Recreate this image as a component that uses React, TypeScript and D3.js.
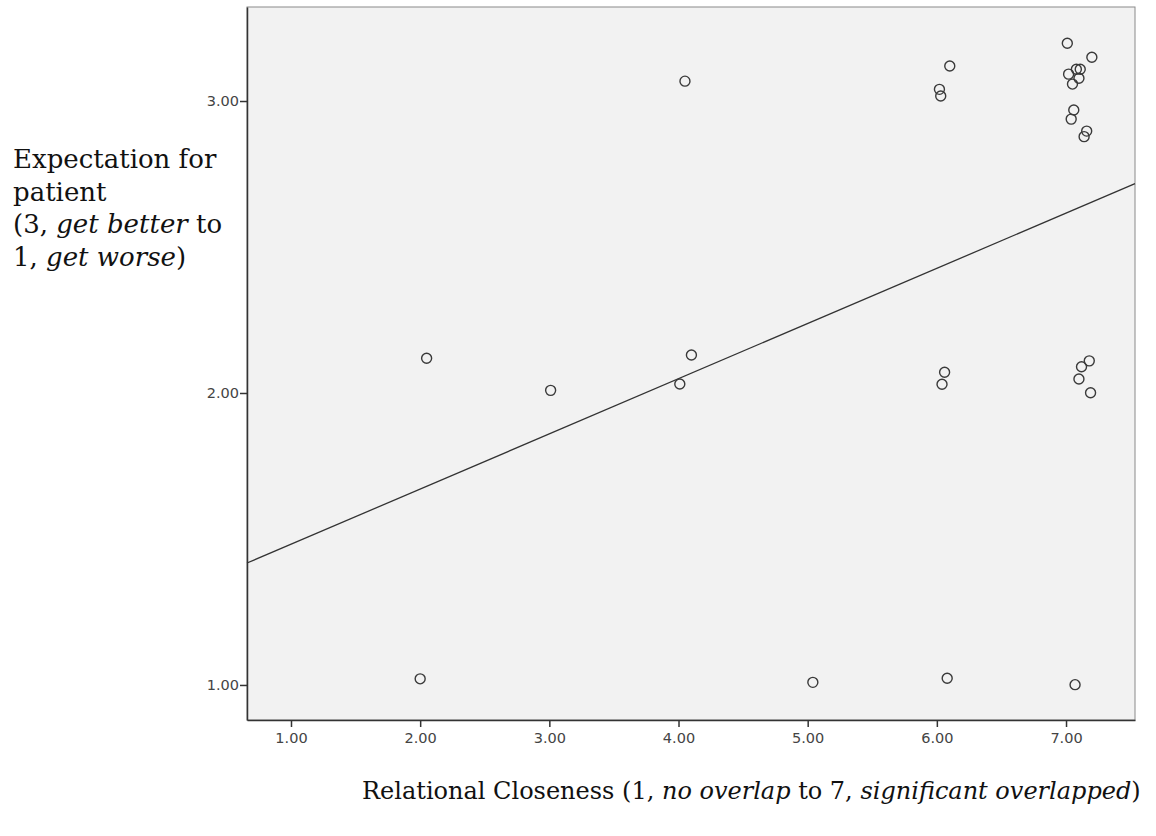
import React, { useEffect, useRef } from "react";
import * as d3 from "d3";

const closeness = [
  2.0, 5.04, 6.08, 7.07,
  2.05, 3.01, 4.01, 4.1, 6.04, 6.06, 7.1, 7.12, 7.18, 7.19,
  4.05, 6.02, 6.03, 6.1,
  7.01, 7.2, 7.02, 7.08, 7.11, 7.1, 7.05, 7.06, 7.04, 7.16, 7.14,
];
const expectation = [
  1.021, 1.009, 1.023, 1.001,
  2.119, 2.009, 2.031, 2.13, 2.03, 2.071, 2.048, 2.09, 2.11, 2.001,
  3.068, 3.04, 3.017, 3.12,
  3.198, 3.15, 3.092, 3.109, 3.109, 3.078, 3.058, 2.969, 2.938, 2.897, 2.878,
];
const xTicks = [1, 2, 3, 4, 5, 6, 7];
const yTicks = [1, 2, 3];
const fitIntercept = 1.293;
const fitSlope = 0.189;

export default function App() {
  const ref = useRef<SVGSVGElement>(null);
  useEffect(() => {
    const svg = d3.select(ref.current);
    svg.selectAll("*").remove();
    const L = 247, T = 7, R = 1135, B = 720;
    const x = d3.scaleLinear().domain([0.6594, 7.534]).range([L, R]);
    const y = d3.scaleLinear().domain([0.88, 3.322]).range([B, T]);

    svg.append("rect").attr("x", L).attr("y", T).attr("width", R - L).attr("height", B - T)
      .attr("fill", "#f2f2f2").attr("stroke", "#8a8a8a").attr("stroke-width", 1);

    const xa = svg.append("g").attr("transform", `translate(0,${B})`)
      .call(d3.axisBottom(x).tickValues(xTicks).tickFormat(d3.format(".2f")).tickSize(7).tickPadding(6).tickSizeOuter(0));
    const ya = svg.append("g").attr("transform", `translate(${L},0)`)
      .call(d3.axisLeft(y).tickValues(yTicks).tickFormat(d3.format(".2f")).tickSize(7).tickPadding(1).tickSizeOuter(0));
    [xa, ya].forEach((g) => {
      g.attr("font-family", "DejaVu Sans").attr("font-size", 14.5);
      g.select(".domain").attr("stroke", "#333").attr("stroke-width", 1.5);
      g.selectAll(".tick line").attr("stroke", "#333").attr("stroke-width", 1.5);
      g.selectAll(".tick text").attr("fill", "#444");
    });

    const line = d3.line<number>().x((d) => x(d)).y((d) => y(fitIntercept + fitSlope * d));
    svg.append("path").datum([0.6594, 7.534]).attr("d", line).attr("fill", "none")
      .attr("stroke", "#333").attr("stroke-width", 1.3);

    svg.append("g").selectAll("circle").data(closeness).join("circle")
      .attr("cx", (d) => x(d)).attr("cy", (_d, i) => y(expectation[i])).attr("r", 5)
      .attr("fill", "none").attr("stroke", "#3a3a3a").attr("stroke-width", 1.4);

    const yt = svg.append("text").attr("font-family", "DejaVu Serif").attr("font-size", 26).attr("fill", "#111");
    const lines: [string, string, string][] = [
      ["Expectation for", "", ""],
      ["patient", "", ""],
      ["(3, ", "get better", " to"],
      ["1, ", "get worse", ")"],
    ];
    lines.forEach((ln, i) => {
      yt.append("tspan").attr("x", 13).attr("y", 168 + i * 32.5).text(ln[0]);
      if (ln[1]) {
        yt.append("tspan").attr("font-style", "italic").text(ln[1]);
        yt.append("tspan").text(ln[2]);
      }
    });

    const xt = svg.append("text").attr("x", 362).attr("y", 799).attr("font-family", "DejaVu Serif")
      .attr("font-size", 24).attr("fill", "#111");
    xt.append("tspan").text("Relational Closeness (1, ");
    xt.append("tspan").attr("font-style", "italic").text("no overlap");
    xt.append("tspan").text(" to 7, ");
    xt.append("tspan").attr("font-style", "italic").text("significant overlapped");
    xt.append("tspan").text(")");
  }, []);
  return (
    <svg ref={ref} width={1156} height={836}
      style={{ position: "absolute", left: 0, top: 0, background: "#fff" }} />
  );
}
